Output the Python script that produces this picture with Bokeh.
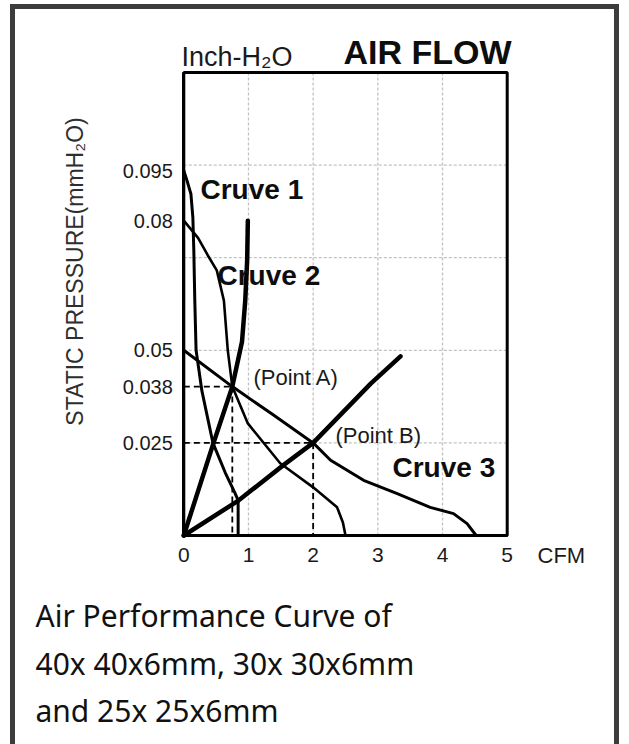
import numpy as np
from bokeh.plotting import figure
from bokeh.models import Range1d, FixedTicker, CustomJSTickFormatter, Label, LinearAxis
from bokeh.embed import file_html
from bokeh.resources import INLINE

# ---------------- data ----------------
x_ticks = [0, 1, 2, 3, 4, 5]
y_tick_values = [0.025, 0.038, 0.05, 0.08, 0.095]
y_tick_labels = ["0.025", "0.038", "0.05", "0.08", "0.095"]

curve1_cfm = [0, 0.05, 0.11, 0.14, 0.155, 0.17, 0.19, 0.28, 0.45, 0.64, 0.79, 0.84, 0.84]
curve1_p = [0.095, 0.092, 0.088, 0.081, 0.073, 0.0615, 0.05, 0.037, 0.025, 0.017, 0.0115, 0.0095, 0]

curve2_cfm = [0, 0.22, 0.37, 0.51, 0.62, 0.68, 0.75, 0.99, 1.49, 2.0, 2.37, 2.46, 2.5]
curve2_p = [0.08, 0.076, 0.072, 0.0685, 0.0615, 0.05, 0.038, 0.0295, 0.0195, 0.013, 0.0076, 0.0035, 0]

curve3_cfm = [0, 0.75, 1.37, 2.0, 2.27, 2.78, 3.3, 3.81, 4.17, 4.38, 4.52]
curve3_p = [0.05, 0.038, 0.0316, 0.025, 0.0203, 0.0149, 0.0113, 0.0076, 0.0059, 0.0032, 0]

system_a_cfm = [0, 0.46, 0.75, 0.9, 0.95, 0.98, 0.99]
system_a_p = [0, 0.025, 0.038, 0.052, 0.0615, 0.071, 0.08]

system_b_cfm = [0, 0.85, 1.54, 2.0, 2.89, 3.35]
system_b_p = [0, 0.0095, 0.019, 0.025, 0.039, 0.048]

point_names = ["(Point A)", "(Point B)"]
point_cfm = [0.75, 2.0]
point_p = [0.038, 0.025]

curve_names = ["Cruve 1", "Cruve 2", "Cruve 3"]
caption = ["Air Performance Curve of", "40x 40x6mm, 30x 30x6mm", "and 25x 25x6mm"]

# The printed pressure axis is not linear: its labels sit on an evenly spaced
# grid (step 0.025) at these heights -- the axis scale of the original drawing.
axis_pressure = [0, 0.025, 0.038, 0.05, 0.08, 0.095, 0.125]
axis_height = [0, 0.025, 0.0402, 0.05, 0.085, 0.0985, 0.125]
grid_step = 0.025
x_max, y_top = 5, 0.125


def ypos(v):
    return np.interp(v, axis_pressure, axis_height)


# ---------------- layout (page pixels) ----------------
W, H = 629, 744
FL, FR, FT, FB = 183.3, 506.7, 72.0, 535.0   # chart box on the page
sx = (FR - FL) / x_max                       # px per CFM
sy = (FB - FT) / y_top                       # px per axis unit


def X(px):   # page pixel -> data x
    return (px - FL) / sx


def Y(py):   # page pixel -> data y
    return (FB - py) / sy


FONT = "Liberation Sans"
INK = "#1a1a1a"

p = figure(width=W, height=H, output_backend="svg", toolbar_location=None,
           x_range=Range1d(X(0), X(W)), y_range=Range1d(Y(H), Y(0)),
           x_axis_location=None, y_axis_location=None, min_border=0)
p.grid.visible = False
p.border_fill_alpha = 0
p.background_fill_alpha = 0
p.outline_line_color = None
p.styles = {
    "background-color": "#ffffff",
    "box-shadow": "inset 0 4px 0 0 #ffffff, inset 10px 0 0 0 #ffffff, "
                  "inset -10px 0 0 0 #ffffff, "
                  "inset 15px 0 0 0 #3c3c3c, inset -15px 0 0 0 #3c3c3c, "
                  "inset 0 9px 0 0 #3c3c3c",
}

# grid lines (dotted light grey) on the tick positions
gx = np.array(x_ticks[1:-1], dtype=float)
gy = np.arange(1, 5) * grid_step
p.segment(x0=gx, y0=np.zeros_like(gx), x1=gx, y1=np.full_like(gx, y_top),
          line_color="#c2c2c2", line_width=1.3, line_dash="3 2")
p.segment(x0=np.zeros_like(gy), y0=gy, x1=np.full_like(gy, x_max), y1=gy,
          line_color="#c2c2c2", line_width=1.3, line_dash="3 2")

# axes at the chart box
xaxis = LinearAxis(fixed_location=0, bounds=(0, x_max), ticker=FixedTicker(ticks=x_ticks))
yaxis = LinearAxis(fixed_location=0, bounds=(0, y_top),
                   ticker=FixedTicker(ticks=[float(v) for v in ypos(y_tick_values)]),
                   formatter=CustomJSTickFormatter(args=dict(labels=y_tick_labels),
                                                   code="return labels[index];"))
for ax in (xaxis, yaxis):
    ax.axis_line_width = 3
    ax.axis_line_color = "black"
    ax.major_tick_out = 0
    ax.major_tick_in = 0
    ax.minor_tick_out = 0
    ax.minor_tick_in = 0
    ax.major_label_text_font = FONT
    ax.major_label_text_color = INK
xaxis.major_label_text_font_size = "21px"
xaxis.major_label_standoff = 12
yaxis.major_label_text_font_size = "20px"
yaxis.major_label_standoff = 11
p.add_layout(xaxis, "below")
p.add_layout(yaxis, "left")

# chart box (top and right edges)
p.quad(left=[0], right=[x_max], bottom=[0], top=[y_top], fill_color=None,
       line_color="black", line_width=3)

# reference dashed lines to the operating points
px = np.array(point_cfm)
py = ypos(point_p)
p.segment(x0=np.concatenate([np.zeros(2), px]), y0=np.concatenate([py, py]),
          x1=np.concatenate([px, px]), y1=np.concatenate([py, np.zeros(2)]),
          line_color="black", line_width=1.8, line_dash="6 4")

# fan curves and system curves
for xs, ys, w in [(curve1_cfm, curve1_p, 3), (curve2_cfm, curve2_p, 2.6),
                  (curve3_cfm, curve3_p, 3), (system_a_cfm, system_a_p, 4.5),
                  (system_b_cfm, system_b_p, 4.5)]:
    p.line(xs, ypos(ys), line_color="black", line_width=w,
           line_join="round", line_cap="round")


def add_label(text, x, y, size, bold=False, align="left", angle=0, color=INK,
              font=FONT):
    p.add_layout(Label(x=x, y=y, text=text,
                       text_font=font, text_font_size=size,
                       text_font_style="bold" if bold else "normal",
                       text_align=align, text_baseline="middle", angle=angle,
                       text_color=color))


# curve names
add_label(curve_names[0], X(200), Y(189), "28px", bold=True, color="#0d0d0d")
add_label(curve_names[1], X(217), Y(275), "28px", bold=True, color="#0d0d0d")
add_label(curve_names[2], X(392), Y(467), "28px", bold=True, color="#0d0d0d")
# point names
add_label(point_names[0], X(253), Y(377), "22px")
add_label(point_names[1], X(335), Y(435), "22px")

# titles above the chart
add_label("Inch-H\u2082O", X(181), Y(56), "27px")
add_label("AIR FLOW", X(343), Y(51), "34px", bold=True, color="#0d0d0d")
# axis titles
add_label("STATIC PRESSURE(mmH\u2082O)", X(74), Y(271), "23px",
          align="center", angle=np.pi / 2, color="#2e2e2e")
add_label("CFM", X(537), Y(555), "22px")

# caption
for i, line in enumerate(caption):
    add_label(line, X(35), Y(615 + 47.5 * i), "30px", color="#111111", font="Noto Sans")

open("out.html", "w").write(file_html(p, INLINE))
